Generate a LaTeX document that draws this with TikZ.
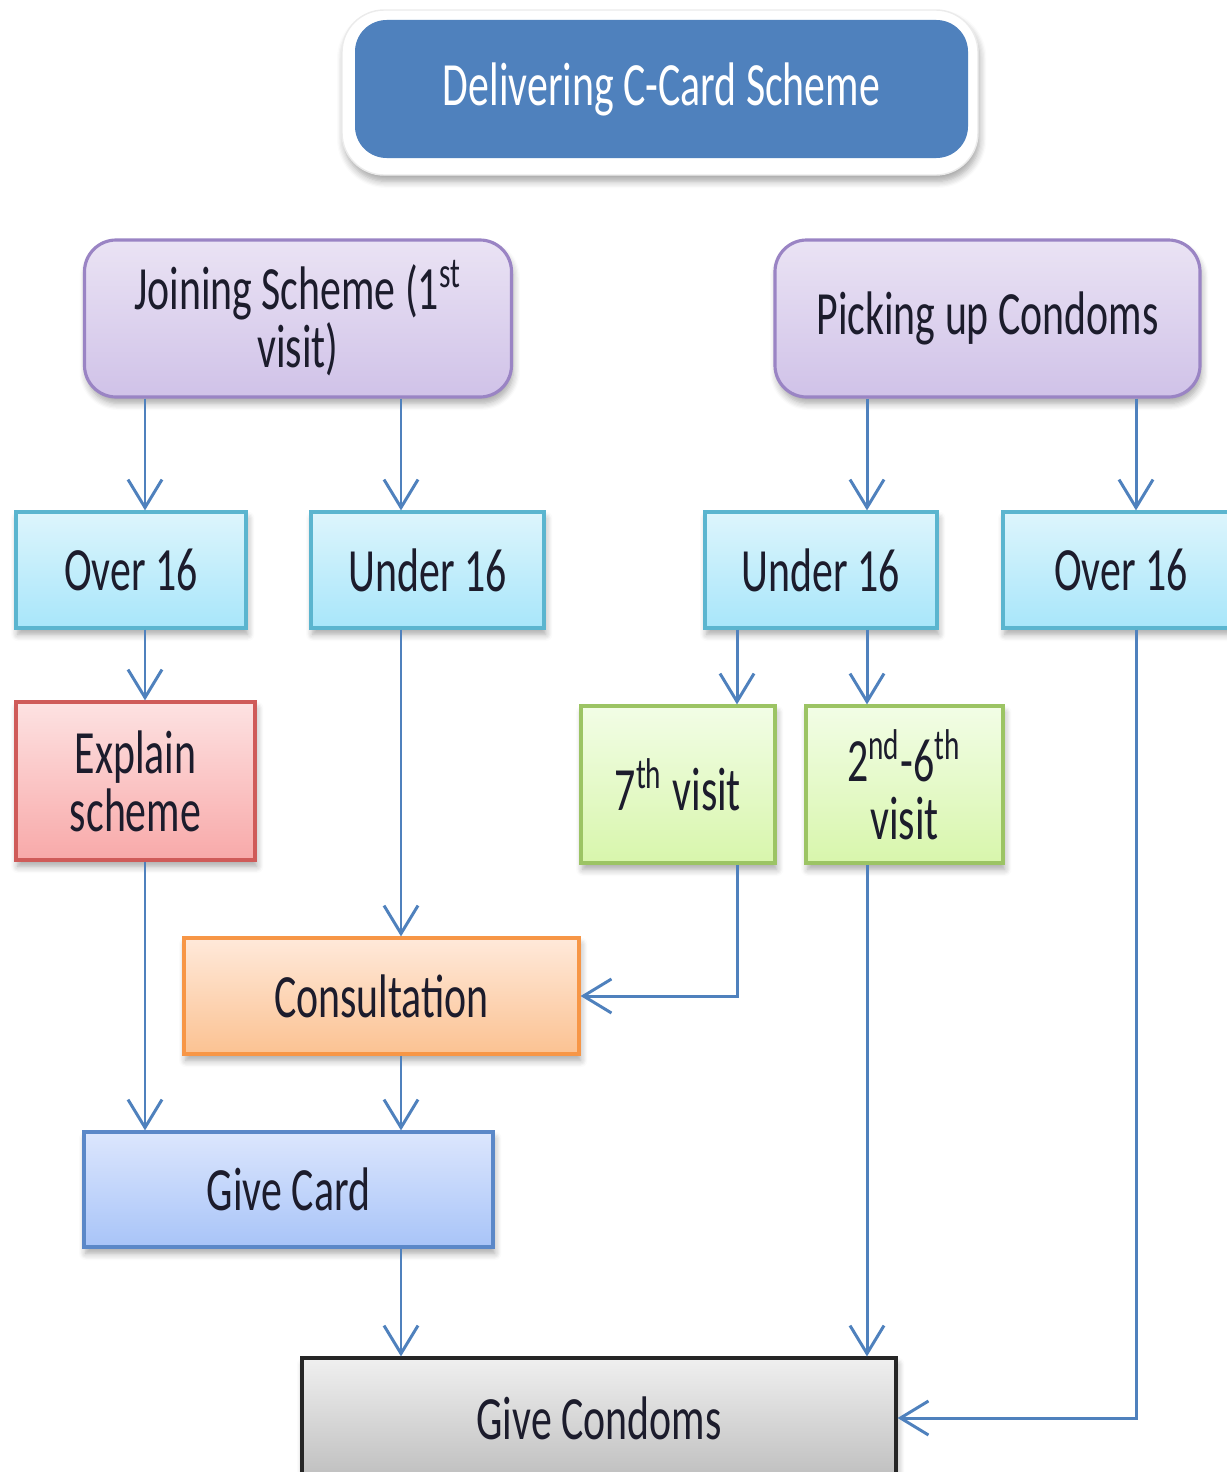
\documentclass[tikz,border=0pt]{standalone}
\usepackage{fontspec}
\setmainfont[FakeStretch=0.68]{Carlito}
\usetikzlibrary{arrows.meta,shadows.blur}
\definecolor{cblue}{HTML}{4F81BD}
\definecolor{txt}{HTML}{1C1C2C}
\definecolor{purpletop}{HTML}{EAE3F4}
\definecolor{purplebot}{HTML}{D0C2E8}
\definecolor{purpleline}{HTML}{9A84C4}
\definecolor{cyantop}{HTML}{DDF5FC}
\definecolor{cyanbot}{HTML}{A8E6FA}
\definecolor{cyanline}{HTML}{5BB5CF}
\definecolor{redtop}{HTML}{FDE2E2}
\definecolor{redbot}{HTML}{F8A9A9}
\definecolor{redline}{HTML}{CF5B59}
\definecolor{greentop}{HTML}{F2FDE6}
\definecolor{greenbot}{HTML}{D8F6AC}
\definecolor{greenline}{HTML}{9CC464}
\definecolor{orangetop}{HTML}{FFE9DA}
\definecolor{orangebot}{HTML}{FBC292}
\definecolor{orangeline}{HTML}{F79646}
\definecolor{bluetop}{HTML}{DCE6FD}
\definecolor{bluebot}{HTML}{A8C4F8}
\definecolor{blueline}{HTML}{5B88C8}
\begin{document}
\begin{tikzpicture}[
  font=\fontsize{17.5}{16.5}\selectfont,
  arr/.style={draw=cblue,line width=0.85pt,-{Straight Barb[length=2.8mm,width=3.4mm]}},
  shad/.style={blur shadow={shadow xshift=0.5pt,shadow yshift=-1.8pt,shadow blur steps=6,shadow opacity=35}},
  box/.style={shad,line width=0.9pt,inner sep=0pt,align=center,text=txt},
  purplebox/.style={box,rounded corners=9pt,draw=purpleline,top color=purpletop,bottom color=purplebot,minimum width=4.27cm,minimum height=1.57cm},
  cyanbox/.style={box,draw=cyanline,top color=cyantop,bottom color=cyanbot,minimum height=1.16cm},
  redbox/.style={box,draw=redline,top color=redtop,bottom color=redbot},
  greenbox/.style={box,draw=greenline,top color=greentop,bottom color=greenbot,minimum height=1.57cm},
  orangebox/.style={box,draw=orangeline,top color=orangetop,bottom color=orangebot,minimum height=1.16cm},
  bluebox/.style={box,draw=blueline,top color=bluetop,bottom color=bluebot,minimum height=1.15cm},
  graybox/.style={box,draw=black!85,top color=black!6,bottom color=black!25,minimum height=1.20cm}
]
\useasboundingbox (0,0) rectangle (12.26,-14.72);
\node[shad,fill=white,draw=black!8,rounded corners=12pt,minimum width=6.36cm,minimum height=1.65cm] (frame) at (6.60,-0.925) {};
\node[fill=cblue,rounded corners=9pt,minimum width=6.13cm,minimum height=1.38cm,text=white] (title) at (6.615,-0.89) {Delivering C-Card Scheme};
\node[purplebox] (join) at (2.98,-3.185) {Joining Scheme (1\textsuperscript{st}\\visit)};
\node[purplebox,minimum width=4.25cm] (pick) at (9.875,-3.185) {Picking up Condoms};
\node[cyanbox,minimum width=2.30cm] (over16L) at (1.31,-5.70) {Over 16};
\node[cyanbox,minimum width=2.33cm] (under16L) at (4.275,-5.70) {Under 16};
\node[cyanbox,minimum width=2.32cm] (under16R) at (8.21,-5.70) {Under 16};
\node[cyanbox,minimum width=2.36cm] (over16R) at (11.21,-5.70) {Over 16};
\node[redbox,minimum width=2.39cm,minimum height=1.58cm] (explain) at (1.355,-7.81) {Explain\\scheme};
\node[greenbox,minimum width=1.94cm] (seventh) at (6.78,-7.845) {7\textsuperscript{th} visit};
\node[greenbox,minimum width=1.97cm] (second) at (9.045,-7.845) {2\textsuperscript{nd}-6\textsuperscript{th}\\visit};
\node[orangebox,minimum width=3.95cm] (consult) at (3.815,-9.96) {Consultation};
\node[bluebox,minimum width=4.09cm] (card) at (2.885,-11.895) {Give Card};
\node[graybox,minimum width=5.94cm] (condoms) at (5.99,-14.18) {Give Condoms};
\draw[arr](join.south -| 1.45,0)--(over16L.north -| 1.45,0);
\draw[arr](join.south -| 4.01,0)--(under16L.north -| 4.01,0);
\draw[arr](pick.south -| 8.67,0)--(under16R.north -| 8.67,0);
\draw[arr](pick.south -| 11.36,0)--(over16R.north -| 11.36,0);
\draw[arr](over16L.south -| 1.45,0)--(explain.north -| 1.45,0);
\draw[arr](under16L.south -| 4.01,0)--(consult.north -| 4.01,0);
\draw[arr](under16R.south -| 7.37,0)--(seventh.north -| 7.37,0);
\draw[arr](under16R.south -| 8.67,0)--(second.north -| 8.67,0);
\draw[arr](seventh.south -| 7.37,0)|-(consult.east);
\draw[arr](explain.south -| 1.45,0)--(card.north -| 1.45,0);
\draw[arr](consult.south -| 4.01,0)--(card.north -| 4.01,0);
\draw[arr](card.south -| 4.01,0)--(condoms.north -| 4.01,0);
\draw[arr](second.south -| 8.67,0)--(condoms.north -| 8.67,0);
\draw[arr](over16R.south -| 11.36,0)|-(condoms.east);
\end{tikzpicture}
\end{document}
